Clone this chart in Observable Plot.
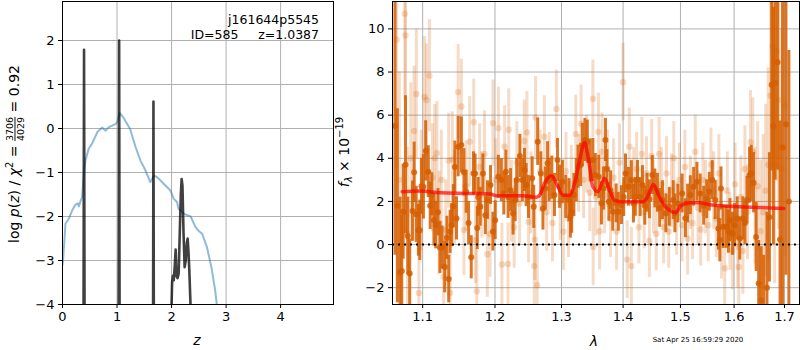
<!DOCTYPE html>
<html><head><meta charset="utf-8">
<script src="https://cdn.jsdelivr.net/npm/d3@7"></script>
<script src="https://cdn.jsdelivr.net/npm/@observablehq/plot@0.6"></script>
<style>
body{margin:0;background:white;}
#wrap{position:relative;width:800px;height:350px;overflow:hidden;}
#left{position:absolute;left:0;top:0;}
#right{position:absolute;left:340px;top:0;}
</style></head><body><div id="wrap"><div id="left"></div><div id="right"></div></div>
<script>
// ---------- left panel data ----------
const zTicks = [0, 1, 2, 3, 4];
const logpTicks = [-4, -3, -2, -1, 0, 1, 2];
// chi2-based curve (blue)
const chiZ = [0.0, 0.01, 0.055, 0.116, 0.178, 0.24, 0.28, 0.30, 0.33, 0.36, 0.39, 0.42, 0.48, 0.54, 0.64, 0.73, 0.79, 0.85, 0.97, 1.0, 1.05, 1.11, 1.24, 1.34, 1.43, 1.52, 1.61, 1.68, 1.74, 1.86, 1.98, 2.04, 2.1, 2.13, 2.23, 2.35, 2.44, 2.5, 2.56, 2.65, 2.73, 2.8, 2.83, 2.9];
const chiLog = [-3.1, -3.0, -2.16, -2.05, -1.86, -1.73, -1.70, -1.77, -1.65, -1.56, -1.03, -0.73, -0.46, -0.35, -0.08, 0.02, -0.05, 0.03, 0.1, 0.14, 0.35, 0.26, -0.01, -0.42, -0.73, -0.95, -1.22, -1.07, -1.11, -1.26, -1.41, -1.6, -1.67, -1.83, -1.94, -2.0, -2.24, -2.33, -2.39, -2.7, -3.15, -3.68, -4.0, -4.6];
// p(z) curve (black)
const pzZ = [0.0, 0.38, 0.395, 0.41, 1.025, 1.0387, 1.052, 1.656, 1.668, 1.68, 1.97, 1.995, 2.01, 2.025, 2.04, 2.06, 2.075, 2.09, 2.11, 2.13, 2.15, 2.17, 2.185, 2.2, 2.22, 2.24, 2.26, 2.28, 2.295, 2.31, 2.325, 2.345, 2.36, 2.4];
const pzLog = [-8, -8, 1.79, -8, -8, 2.0, -8, -8, 0.61, -8, -8, -4.3, -3.5, -3.35, -3.45, -3.1, -2.75, -3.35, -3.4, -3.3, -2.4, -1.5, -1.15, -1.3, -2.4, -3.15, -3.0, -2.6, -2.5, -2.8, -3.2, -3.9, -4.6, -8];

// ---------- right panel data ----------
const lamTicks = [1.1, 1.2, 1.3, 1.4, 1.5, 1.6, 1.7];
const fTicks = [-2, 0, 2, 4, 6, 8, 10];
// [wavelength (um), flux, error]  combined spectrum (dark)
const darkSpec = [
[1.064,5.5,6.0],[1.067,1.8,4.5],[1.0705,-1.3,3.5],[1.0727,-1.23,2.6],[1.0745,1.52,2.2],[1.0775,3.7,3.2],[1.0805,0.4,1.8],[1.083,-1.34,1.6],
[1.0866,1.55,1.4],[1.0888,3.35,1.4],[1.0915,1.4,1.3],[1.0944,0.66,1.2],[1.0962,0.66,1.4],[1.0985,2.7,1.3],[1.101,2.68,1.5],[1.104,4.34,1.4],
[1.1075,3.38,1.2],[1.110,1.8,1.1],[1.112,2.33,1.0],[1.115,1.13,1.2],[1.1175,0.9,1.1],[1.1205,1.5,1.1],[1.1231,-0.14,1.2],[1.126,-0.14,1.0],
[1.1296,-1.04,1.2],[1.1326,0.31,1.0],[1.135,-1.6,1.1],[1.1369,0.59,1.0],[1.139,0.9,1.0],[1.1414,1.78,1.0],[1.1435,3.6,1.2],[1.1457,1.21,1.0],
[1.148,4.54,1.4],[1.1524,4.62,1.3],[1.156,3.35,1.1],[1.1591,2.45,1.0],[1.1625,1.0,1.0],[1.1662,-0.59,1.0],[1.1694,3.3,1.0],[1.1716,3.3,0.9],
[1.1747,0.77,1.0],[1.176,2.21,0.9],[1.179,1.75,0.9],[1.1827,3.3,0.9],[1.1862,1.36,0.9],[1.1892,2.06,0.9],[1.1936,2.76,0.9],[1.197,0.6,0.9],
[1.2003,1.13,0.9],[1.2048,3.14,1.0],[1.2092,2.99,1.0],[1.2128,2.37,1.0],[1.2159,3.38,1.0],[1.2191,2.21,1.0],[1.2227,2.52,1.0],[1.2264,1.44,1.0],
[1.2296,2.06,1.0],[1.2319,2.99,1.0],[1.2365,4.11,1.0],[1.2402,2.99,1.0],[1.2434,3.46,1.0],[1.2458,2.76,1.0],[1.2494,2.21,1.0],[1.2549,3.07,1.0],
[1.2573,1.75,1.0],[1.2633,4.77,1.1],[1.2681,3.3,1.0],[1.2713,1.67,1.0],[1.275,2.6,1.0],[1.2784,3.77,1.0],[1.2808,3.0,1.0],[1.285,3.1,1.0],
[1.289,2.3,1.0],[1.2937,3.92,1.0],[1.297,2.68,1.0],[1.3015,2.91,1.0],[1.3066,2.21,1.0],[1.3117,2.06,1.0],[1.314,1.3,1.0],[1.316,1.52,1.0],
[1.3195,2.3,1.0],[1.3234,2.99,1.0],[1.326,3.61,1.0],[1.3303,3.69,1.0],[1.333,4.62,1.0],[1.3371,4.85,1.0],[1.341,4.77,1.0],[1.3455,3.9,1.0],
[1.350,3.92,1.0],[1.354,3.22,1.0],[1.3597,3.14,1.0],[1.364,1.91,1.0],[1.3675,2.6,1.0],[1.3706,4.85,1.0],[1.373,3.5,0.9],[1.3762,1.98,0.9],
[1.379,2.52,0.9],[1.3827,1.52,0.9],[1.3883,1.91,0.9],[1.392,1.52,0.9],[1.3972,1.83,0.9],[1.401,2.2,0.9],[1.404,3.3,0.9],[1.409,2.68,0.9],
[1.414,2.99,0.9],[1.4175,1.9,0.9],[1.4208,2.21,0.9],[1.4245,3.0,0.9],[1.429,2.2,0.9],[1.433,2.76,0.9],[1.437,1.8,0.9],[1.441,2.4,0.9],
[1.445,2.1,0.9],[1.450,3.22,0.9],[1.4545,2.6,0.9],[1.459,2.4,0.9],[1.463,1.7,0.9],[1.468,2.06,0.9],[1.474,1.45,0.9],[1.480,1.75,0.9],
[1.487,2.06,0.9],[1.490,1.45,0.9],[1.4955,1.9,0.9],[1.503,2.37,0.9],[1.509,1.22,0.9],[1.513,1.9,0.9],[1.518,2.29,0.9],[1.524,2.68,0.9],
[1.530,2.91,0.9],[1.536,2.37,0.9],[1.5425,1.8,0.9],[1.548,2.1,0.9],[1.553,2.45,0.9],[1.5585,2.99,0.9],[1.564,2.06,0.9],[1.570,0.74,1.0],
[1.5728,0.2,1.0],[1.575,2.6,1.0],[1.579,0.82,1.0],[1.585,0.82,1.0],[1.589,0.6,1.0],[1.592,1.13,1.0],[1.597,0.5,1.0],[1.601,0.9,1.0],
[1.606,1.21,1.0],[1.611,0.28,1.0],[1.617,1.21,1.0],[1.621,1.0,1.0],[1.625,2.06,1.1],[1.630,3.22,1.3],[1.6335,3.3,1.3],[1.638,2.87,1.4],
[1.643,0.35,1.6],[1.648,-1.81,2.0],[1.653,-2.6,2.5],[1.658,-3.5,3.0],[1.6645,-2.0,3.5],[1.6695,1.26,3.0],[1.674,7.41,4.0],[1.6775,5.5,5.5],
[1.681,7.49,4.5],[1.686,8.45,5.0],[1.691,0.23,5.5],[1.696,4.5,8.0],[1.703,5.58,7.0],[1.709,2.0,7.0]
];
// individual exposures (light)
const lightSpec = [
[1.066,9.5,6],[1.0695,3.0,5],[1.0766,10.7,4],[1.0775,9.7,4],[1.080,0.5,4],[1.0845,4.0,3.5],[1.0887,5.27,3],[1.0917,6.98,3],
[1.095,-2.25,3],[1.098,2.5,2.8],[1.1026,6.84,2.8],[1.105,6.7,2.6],[1.109,7.83,2.6],[1.113,3.1,2.5],[1.116,4.0,2.5],[1.119,4.23,2.4],
[1.122,1.0,2.4],[1.125,3.0,2.3],[1.128,-1.5,2.3],[1.131,0.7,2.3],[1.135,3.89,2.2],[1.137,-2.25,2.2],[1.140,3.95,2.2],[1.143,2.2,2.2],
[1.148,7.07,2.2],[1.1524,6.4,2.2],[1.156,0.67,2.1],[1.159,2.7,2.1],[1.164,4.77,2.1],[1.1697,5.67,2.0],[1.172,0.2,2.0],[1.174,-2.17,2.0],
[1.178,3.6,2.0],[1.181,2.3,2.0],[1.185,4.2,2.0],[1.189,-0.45,2.0],[1.193,0.48,2.0],[1.197,5.63,2.0],[1.201,3.0,1.9],[1.205,5.4,1.9],
[1.21,-0.92,1.9],[1.214,4.54,1.9],[1.219,-0.9,1.9],[1.220,5.32,1.9],[1.224,2.0,1.9],[1.228,0.8,1.9],[1.232,3.8,1.9],[1.236,1.9,1.9],
[1.243,4.8,1.9],[1.247,5.2,1.9],[1.2495,1.05,1.9],[1.253,2.4,1.9],[1.258,-1.0,1.9],[1.259,0.23,1.9],[1.26,5.89,1.9],[1.2625,-1.89,1.9],
[1.267,3.4,1.9],[1.2735,5.0,1.9],[1.277,1.5,1.8],[1.281,3.4,1.8],[1.286,1.0,1.8],[1.292,6.29,1.8],[1.298,2.0,1.8],[1.303,0.6,1.8],
[1.307,3.4,1.8],[1.311,1.2,1.8],[1.3155,2.8,1.8],[1.3225,5.13,1.8],[1.327,3.3,1.8],[1.331,5.6,1.8],[1.335,3.0,1.8],[1.340,4.2,1.8],
[1.345,2.4,1.8],[1.350,6.76,1.8],[1.3505,-0.11,1.8],[1.355,2.2,1.8],[1.359,5.22,1.8],[1.361,0.62,1.8],[1.365,4.3,1.8],[1.369,2.3,1.8],
[1.374,3.5,1.8],[1.379,1.2,1.8],[1.384,3.1,1.8],[1.389,0.6,1.8],[1.394,3.8,1.8],[1.400,7.53,1.8],[1.407,-0.7,1.8],[1.4105,4.54,1.8],
[1.414,-1.0,1.8],[1.418,2.8,1.7],[1.423,3.5,1.7],[1.427,0.8,1.7],[1.432,4.2,1.7],[1.436,1.5,1.7],[1.440,3.3,1.7],[1.445,0.17,1.7],
[1.449,4.1,1.7],[1.452,2.2,1.7],[1.457,0.5,1.7],[1.462,4.2,1.7],[1.466,2.8,1.7],[1.470,0.8,1.7],[1.475,3.3,1.7],[1.479,0.6,1.7],
[1.484,2.5,1.7],[1.488,4.0,1.7],[1.493,1.2,1.7],[1.498,3.0,1.7],[1.503,0.9,1.7],[1.508,3.6,1.7],[1.513,0.28,1.7],[1.518,2.4,1.7],
[1.522,1.0,1.7],[1.527,4.3,1.7],[1.532,1.7,1.7],[1.537,0.7,1.7],[1.541,3.0,1.7],[1.546,2.2,1.7],[1.551,0.9,1.7],[1.556,3.7,1.7],
[1.561,2.5,1.8],[1.566,1.2,1.8],[1.571,3.3,1.8],[1.576,0.2,1.8],[1.582,-1.1,1.8],[1.587,2.5,1.8],[1.592,0.6,1.8],[1.597,-0.3,1.8],
[1.602,2.8,1.9],[1.607,-0.1,1.9],[1.609,-1.04,1.9],[1.613,2.2,1.9],[1.617,-0.3,2.0],[1.621,3.5,2.0],[1.626,1.5,2.2],[1.632,4.74,2.4],
[1.6365,4.3,2.5],[1.641,1.8,2.7],[1.646,2.7,3.0],[1.652,0.62,3.3],[1.657,1.5,3.6],[1.662,2.5,4.0],[1.667,3.7,4.5],[1.672,6.9,5],
[1.676,9.19,5],[1.680,3.7,5.5],[1.684,8.95,6],[1.688,6.7,6],[1.694,3.5,6.5],[1.701,6.43,7]
];
// best-fit model (red)
const modelLam = [1.0732, 1.097, 1.1237, 1.1693, 1.1929, 1.2025, 1.2414, 1.2615, 1.2665, 1.2741, 1.2844, 1.2921, 1.3024, 1.3128, 1.3207, 1.3287, 1.3366, 1.3431, 1.3500, 1.3581, 1.3690, 1.3773, 1.3856, 1.3994, 1.4333, 1.4419, 1.4518, 1.4623, 1.4741, 1.4918, 1.5008, 1.5158, 1.5340, 1.5587, 1.6093, 1.6549, 1.6984];
const modelFlux = [2.45, 2.48, 2.40, 2.37, 2.34, 2.26, 2.26, 2.19, 2.29, 2.87, 3.19, 2.84, 2.29, 2.29, 2.84, 3.92, 4.73, 3.92, 2.68, 2.45, 3.07, 2.52, 2.06, 1.98, 1.98, 2.21, 2.79, 2.21, 1.72, 1.49, 1.80, 1.94, 1.94, 1.83, 1.75, 1.72, 1.67];

const ORANGE = "#d55e00";
const FONT = "DejaVu Sans";
const intFmt = d => (d < 0 ? "\u2212" : "") + Math.abs(d);

const chiTable = chiZ.map((z, i) => ({z, v: chiLog[i]}));
const pzTable = pzZ.map((z, i) => ({z, v: pzLog[i]}));
const modelTable = modelLam.map((l, i) => ({l, f: modelFlux[i]}));

const leftPlot = Plot.plot({
  width: 340, height: 350,
  marginLeft: 62, marginRight: 7, marginTop: 1, marginBottom: 46,
  style: {fontFamily: FONT, fontSize: "13px", background: "white", color: "black", overflow: "visible"},
  x: {domain: [0, 4.97], ticks: zTicks, tickFormat: intFmt, tickSize: 4, tickPadding: 3, label: null},
  y: {domain: [-4, 2.886], ticks: logpTicks, tickFormat: intFmt, tickSize: 4, tickPadding: 4, label: null},
  marks: [
    Plot.ruleX(zTicks, {stroke: "#b0b0b0", strokeWidth: 1}),
    Plot.ruleY(logpTicks, {stroke: "#b0b0b0", strokeWidth: 1}),
    Plot.line(chiTable, {x: "z", y: "v", stroke: "#1f77b4", strokeOpacity: 0.5, strokeWidth: 2, clip: true}),
    Plot.line(pzTable, {x: "z", y: "v", stroke: "black", strokeOpacity: 0.75, strokeWidth: 2.6, clip: true}),
    Plot.frame({stroke: "black"})
  ]
});
document.getElementById("left").appendChild(leftPlot);

const rightPlot = Plot.plot({
  width: 460, height: 350,
  marginLeft: 52, marginRight: 1, marginTop: 1, marginBottom: 46,
  style: {fontFamily: FONT, fontSize: "13px", background: "white", color: "black", overflow: "visible"},
  x: {type: "log", domain: [1.0608, 1.731], ticks: lamTicks, tickFormat: d => d.toFixed(1), tickSize: 4, tickPadding: 3, label: null},
  y: {domain: [-2.78, 11.27], ticks: fTicks, tickFormat: intFmt, tickSize: 4, tickPadding: 4, label: null},
  marks: [
    Plot.ruleX(lamTicks, {stroke: "#b0b0b0", strokeWidth: 1}),
    Plot.ruleY(fTicks, {stroke: "#b0b0b0", strokeWidth: 1}),
    Plot.ruleX(lightSpec, {x: d => d[0], y1: d => d[1] - d[2], y2: d => d[1] + d[2], stroke: ORANGE, strokeOpacity: 0.22, strokeWidth: 3, clip: true}),
    Plot.dot(lightSpec, {x: d => d[0], y: d => d[1], r: 3.2, fill: ORANGE, fillOpacity: 0.22, clip: true}),
    Plot.ruleX(darkSpec, {x: d => d[0], y1: d => d[1] - d[2], y2: d => d[1] + d[2], stroke: ORANGE, strokeOpacity: 0.85, strokeWidth: 3, clip: true}),
    Plot.dot(darkSpec, {x: d => d[0], y: d => d[1], r: 3, fill: ORANGE, fillOpacity: 0.85, clip: true}),
    Plot.ruleY([0], {stroke: "black", strokeWidth: 2, strokeDasharray: "2,4"}),
    Plot.line(modelTable, {x: "l", y: "f", stroke: "red", strokeOpacity: 0.7, strokeWidth: 3.5, curve: "monotone-x", clip: true}),
    Plot.frame({stroke: "black"})
  ]
});
document.getElementById("right").appendChild(rightPlot);

// ---------- text annotations ----------
const ls = d3.select(leftPlot);
ls.append("text").attr("x", 319).attr("y", 24).attr("text-anchor", "end")
  .attr("font-family", FONT).attr("font-size", 12.5).attr("fill", "black").text("j161644p5545");
ls.append("text").attr("x", 319).attr("y", 39).attr("text-anchor", "end")
  .attr("font-family", FONT).attr("font-size", 12.5).attr("fill", "black")
  .style("white-space", "pre").text("ID=585     z=1.0387");
ls.append("text").attr("x", 197).attr("y", 345).attr("text-anchor", "middle")
  .attr("font-family", FONT).attr("font-size", 14).attr("font-style", "italic").attr("fill", "black").text("z");

// left y label with stacked fraction (one text chunk, centred)
{
  const numW = 4 * 0.636 * 9.5; // width of the four-digit numerator
  const outer = ls.append("g").attr("transform", "translate(19,154) rotate(-90)")
    .attr("font-family", FONT).attr("fill", "black");
  const t = outer.append("text").attr("font-size", 14).attr("text-anchor", "middle")
    .style("white-space", "pre");
  t.append("tspan").text("log ");
  t.append("tspan").attr("font-style", "italic").text("p");
  t.append("tspan").text("(");
  t.append("tspan").attr("font-style", "italic").text("z");
  t.append("tspan").text(") / ");
  t.append("tspan").attr("font-style", "italic").text("χ");
  t.append("tspan").attr("font-size", 10).attr("dy", -6).text("2");
  t.append("tspan").attr("dy", 6).text(" = ");
  t.append("tspan").attr("font-size", 9.5).attr("dy", -6).text("3706");
  t.append("tspan").attr("font-size", 9.5).attr("dx", -numW).attr("dy", 10.5)
    .style("text-decoration", "overline").text("4029");
  t.append("tspan").attr("dy", -4.5).text(" = 0.92");
}

const rs = d3.select(rightPlot);
rs.append("text").attr("x", 254).attr("y", 346).attr("text-anchor", "middle")
  .attr("font-family", FONT).attr("font-size", 14).attr("font-style", "italic").attr("fill", "black").text("λ");
rs.append("text").attr("x", 358).attr("y", 342)
  .attr("font-family", FONT).attr("font-size", 7).attr("fill", "black").text("Sat Apr 25 16:59:29 2020");
{
  const outer = rs.append("g").attr("transform", "translate(9,152) rotate(-90)")
    .attr("font-family", FONT).attr("fill", "black");
  const t = outer.append("text").attr("font-size", 14).attr("text-anchor", "middle").style("white-space", "pre");
  t.append("tspan").attr("font-style", "italic").text("f");
  t.append("tspan").attr("font-style", "italic").attr("font-size", 10).attr("dy", 3).text("λ");
  t.append("tspan").attr("dy", -3).text(" × 10");
  t.append("tspan").attr("font-size", 10).attr("dy", -6).text("−19");
}
</script></body></html>
